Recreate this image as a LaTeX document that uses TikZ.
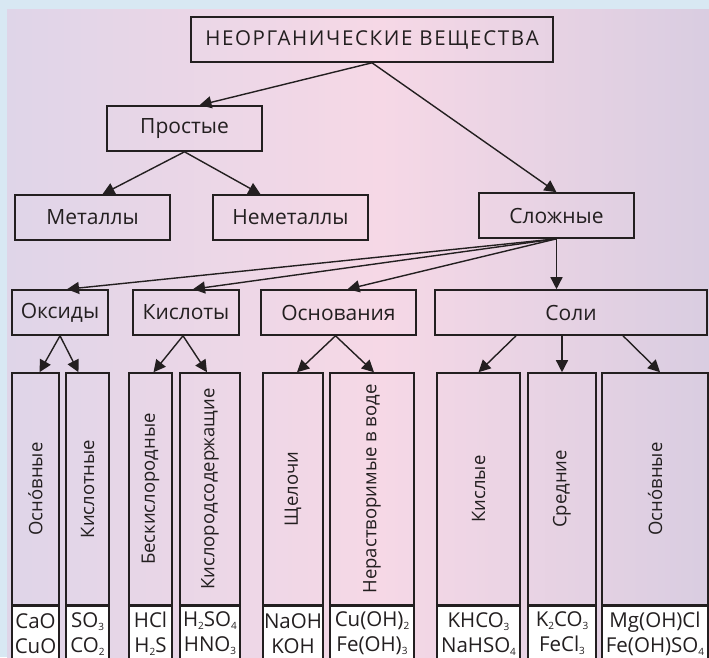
\documentclass[tikz,border=0pt]{standalone}
\usepackage{fontspec}
\setmainfont{Open Sans}
\usepackage{tikz}
\usetikzlibrary{arrows.meta}
\definecolor{ramka}{HTML}{D8E8F3}
\definecolor{lavl}{HTML}{DFD5E8}
\definecolor{rozov}{HTML}{F6D8E6}
\definecolor{lavr}{HTML}{D9CDE1}
\definecolor{linia}{HTML}{231F20}
\newcommand{\chind}[1]{\raisebox{-3pt}{\fontsize{10}{10}\selectfont #1}}

\begin{document}
\begin{tikzpicture}[x=1pt,y=-1pt,
  box/.style={draw=linia, line width=1.6pt, minimum height=45pt, inner sep=0pt, text=linia, font=\fontsize{21}{24}\selectfont},
  stolb/.style={draw=linia, line width=1.6pt, minimum height=232pt, inner sep=0pt, text=linia, font=\fontsize{18.5}{22}\selectfont},
  formula/.style={draw=linia, line width=1.6pt, fill=white, anchor=north, minimum height=54pt, inner sep=0pt, align=center, text=linia, font=\fontsize{20.5}{25}\selectfont},
  strel/.style={draw=linia, line width=1.4pt, -{Triangle[length=12pt,width=12pt]}}]
  \clip (0,0) rectangle (709,657);
  \fill[ramka] (0,0) rectangle (709,657);
  \shade[left color=lavl, right color=rozov] (7,9) rectangle (381,657);
  \shade[left color=rozov, right color=lavr] (380,9) rectangle (709,657);

  \node[box, minimum width=362pt] (neorg) at (372,39.5) {\fontsize{20.5}{24}\selectfont\addfontfeatures{LetterSpace=8}НЕОРГАНИЧЕСКИЕ ВЕЩЕСТВА};
  \node[box, minimum width=155pt] (prost) at (184.5,128.5) {Простые};
  \node[box, minimum width=155pt] (metal) at (92.5,217.5) {Металлы};
  \node[box, minimum width=155pt] (nemet) at (290.5,217.5) {Неметаллы};
  \node[box, minimum width=155pt] (slozh) at (556.5,215.5) {Сложные};
  \node[box, minimum width=96pt] (oksid) at (60,312.5) {Оксиды};
  \node[box, minimum width=106pt] (kislot) at (186,312.5) {Кислоты};
  \node[box, minimum width=155pt] (osnov) at (338.5,312.5) {Основания};
  \node[box, minimum width=272pt] (soli) at (571,312.5) {Соли};

  \node[stolb, minimum width=47pt] (oksOsn) at (35.5,489) {\rotatebox{90}{Осно́вные}};
  \node[stolb, minimum width=43pt] (oksKisl) at (87.5,489) {\rotatebox{90}{Кислотные}};
  \node[stolb, minimum width=43pt] (kisBes) at (150.5,489) {\rotatebox{90}{Бескислородные}};
  \node[stolb, minimum width=60pt] (kisKis) at (210,489) {\rotatebox{90}{Кислородсодержащие}};
  \node[stolb, minimum width=60pt] (osnSch) at (293,489) {\rotatebox{90}{Щелочи}};
  \node[stolb, minimum width=84pt] (osnNer) at (372,489) {\rotatebox{90}{Нерастворимые в воде}};
  \node[stolb, minimum width=83pt] (solKis) at (478.5,489) {\rotatebox{90}{Кислые}};
  \node[stolb, minimum width=68pt] (solSr) at (562,489) {\rotatebox{90}{Средние}};
  \node[stolb, minimum width=106pt] (solOsn) at (655,489) {\rotatebox{90}{Осно́вные}};

  \node[formula, minimum width=47pt] (oksOsnF) at (oksOsn.south) {CaO\\CuO};
  \node[formula, minimum width=43pt] (oksKislF) at (oksKisl.south) {SO\chind{3}\\CO\chind{2}};
  \node[formula, minimum width=43pt] (kisBesF) at (kisBes.south) {HCl\\H\chind{2}S};
  \node[formula, minimum width=60pt] (kisKisF) at (kisKis.south) {H\chind{2}SO\chind{4}\\HNO\chind{3}};
  \node[formula, minimum width=60pt] (osnSchF) at (osnSch.south) {NaOH\\KOH};
  \node[formula, minimum width=84pt] (osnNerF) at (osnNer.south) {Cu(OH)\chind{2}\\Fe(OH)\chind{3}};
  \node[formula, minimum width=83pt] (solKisF) at (solKis.south) {KHCO\chind{3}\\NaHSO\chind{4}};
  \node[formula, minimum width=68pt] (solSrF) at (solSr.south) {K\chind{2}CO\chind{3}\\FeCl\chind{3}};
  \node[formula, minimum width=106pt] (solOsnF) at (solOsn.south) {Mg(OH)Cl\\Fe(OH)SO\chind{4}};

  \draw[strel] (neorg.south) -- ([xshift=15pt]prost.north);
  \draw[strel] (neorg.south) -- (slozh.north);
  \draw[strel] (prost.south) -- ([xshift=10pt]metal.north);
  \draw[strel] (prost.south) -- ([xshift=-30pt]nemet.north);
  \draw[strel] (slozh.south) -- ([xshift=7pt]oksid.north);
  \draw[strel] (slozh.south) -- ([xshift=7pt]kislot.north);
  \draw[strel] (slozh.south) -- ([xshift=9pt]osnov.north);
  \draw[strel] (slozh.south) -- (slozh.south |- soli.north);
  \draw[strel] (oksid.south) -- ([xshift=4pt]oksOsn.north);
  \draw[strel] (oksid.south) -- ([xshift=-9pt]oksKisl.north);
  \draw[strel] ([xshift=-3pt]kislot.south) -- ([xshift=3pt]kisBes.north);
  \draw[strel] ([xshift=-3pt]kislot.south) -- ([xshift=-3pt]kisKis.north);
  \draw[strel] ([xshift=-3pt]osnov.south) -- ([xshift=4pt]osnSch.north);
  \draw[strel] ([xshift=-3pt]osnov.south) -- ([xshift=2pt]osnNer.north);
  \draw[strel] ([xshift=-55pt]soli.south) -- (solKis.north);
  \draw[strel] (solSr.north |- soli.south) -- (solSr.north);
  \draw[strel] ([xshift=52pt]soli.south) -- ([xshift=5pt]solOsn.north);
\end{tikzpicture}
\end{document}
